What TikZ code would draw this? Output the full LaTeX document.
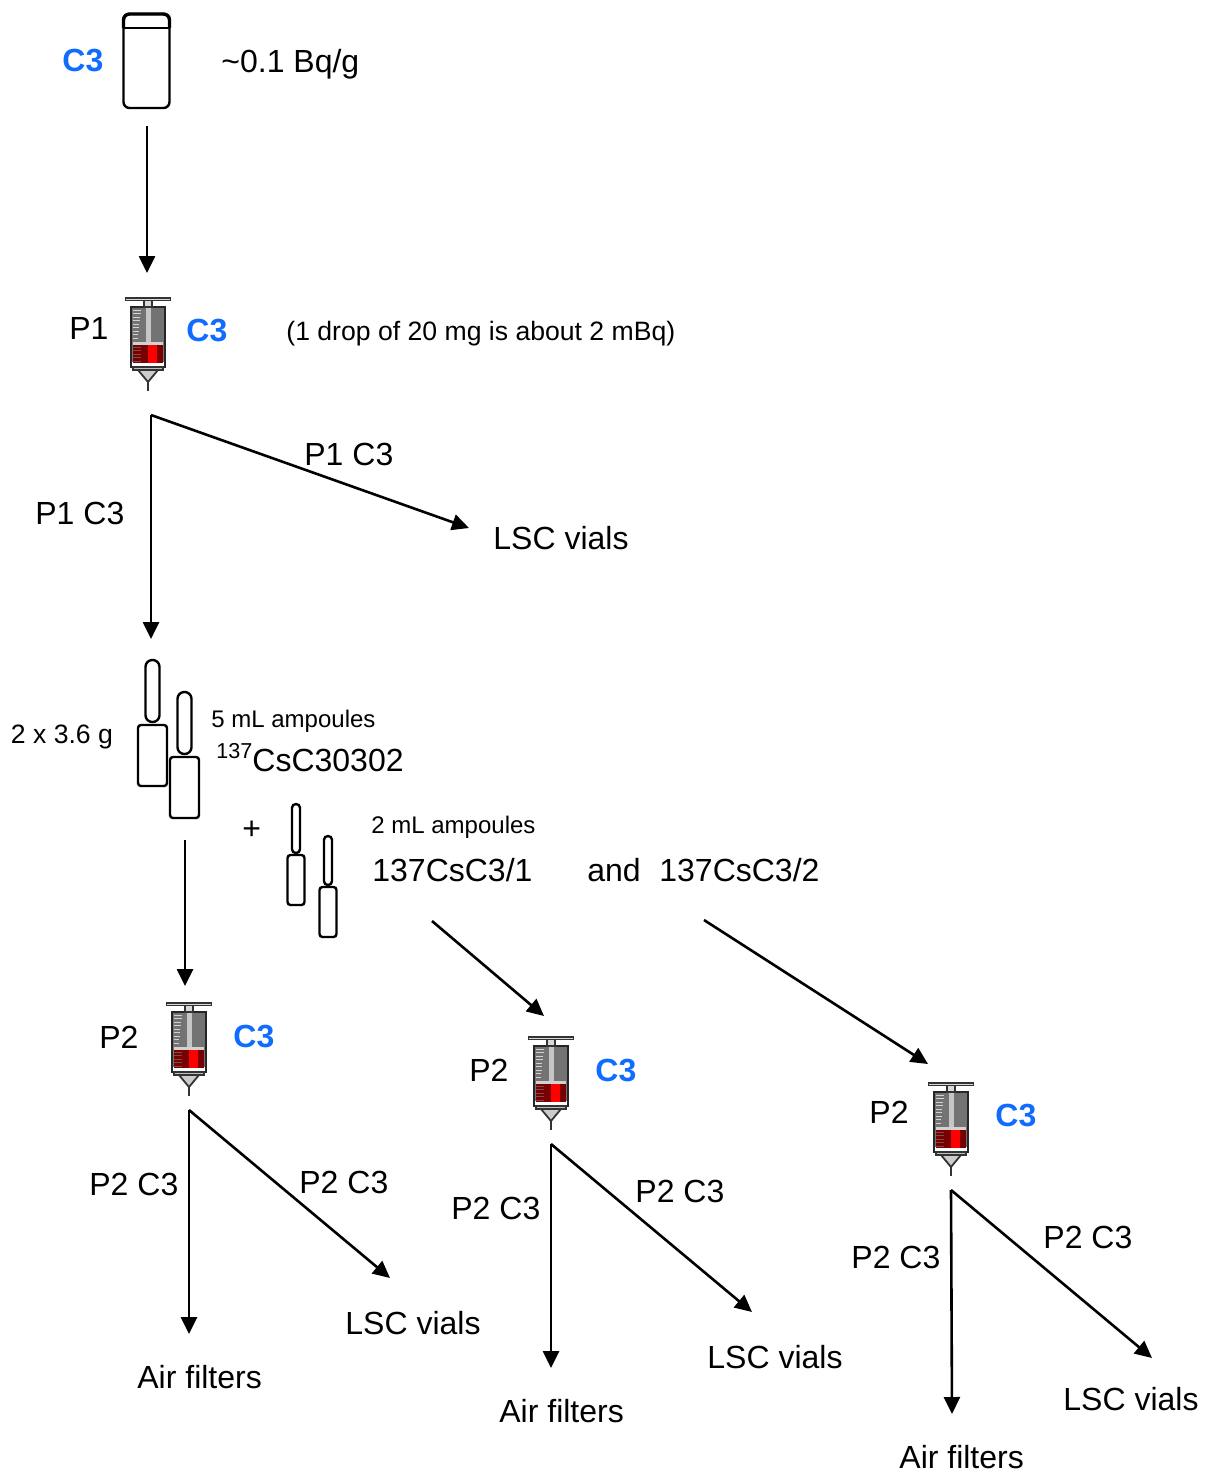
\documentclass[tikz,border=0pt]{standalone}
\usepackage{fontspec}
\setmainfont{Liberation Sans}
\usetikzlibrary{arrows.meta}
\definecolor{cblue}{HTML}{0F6CFF}
\definecolor{liquid}{HTML}{780000}
\tikzset{
	txt/.style={inner sep=0pt,anchor=base west,font=\fontsize{16}{18}\selectfont},
	small/.style={txt,font=\fontsize{12}{14}\selectfont},
	mid/.style={txt,font=\fontsize{13.3}{16}\selectfont},
	cthree/.style={txt,text=cblue,font=\fontsize{16}{18}\selectfont\bfseries},
	flow/.style={line width=1.3pt,-{Triangle[length=8.5pt,width=8pt]}},
	glass/.style={draw=black,line width=1.2pt,rounded corners=1.5pt,fill=white},
	syringe/.pic={
		\fill[gray!90!black] (-16,9) rectangle (16,64);
		\fill[liquid] (-15,45) rectangle (15,65);
		\fill[red] (0,45) rectangle (9,65);
		\fill[gray!45] (-2,9) rectangle (3,44);
		\fill[gray!35] (-15,44) rectangle (15,47);
		\foreach \i in {0,...,8}
			\draw[gray!35,line width=0.4pt] (-15,12+\i*3.5) -- (-7-\i*0.4,12+\i*3.5);
		\foreach \i in {0,...,4}
			\draw[gray!60!liquid,line width=0.4pt] (-15,49+\i*3.5) -- (-7,49+\i*3.5);
		\draw[black!85,line width=1.3pt] (-17,9) rectangle (17,69);
		\draw[black!80,line width=0.8pt,fill=gray!30] (-4,2) rectangle (4,9);
		\draw[black!80,line width=0.7pt,fill=gray!30] (-22.5,0) rectangle (22.5,2.5);
		\draw[black!80,line width=0.8pt,fill=gray!50] (-15,69) rectangle (15,72);
		\draw[black!80,line width=0.9pt,fill=gray!40] (-10,72) -- (10,72) -- (0,84) -- cycle;
		\draw[black!80,line width=0.9pt] (0,84) -- (0,93);
	},
	bigamp/.pic={
		\draw[glass] (-14.5,65) rectangle (14.5,126);
		\draw[glass,rounded corners=3.4pt] (-7,0) rectangle (7,62);
	},
	smallamp/.pic={
		\draw[glass] (-8.5,51) rectangle (8.5,101);
		\draw[glass,rounded corners=1.9pt] (-4,0) rectangle (4,49);
	}
}
\begin{document}
\begin{tikzpicture}[x=0.5pt,y=-0.5pt]
	\useasboundingbox (0,0) rectangle (1211,1473);

	% top row
	\node[cthree] (cA) at (62,71) {C3};
	\draw[line width=1.2pt,rounded corners=3pt] (123.5,14) rectangle (169.5,108);
	\draw[line width=1.7pt,rounded corners=3pt] (123.5,28) |- (169.5,14) -- (169.5,28);
	\draw[line width=1pt] (123.5,28) -- (169.5,28);
	\node[txt] (dose) at (221,72) {\textasciitilde 0.1 Bq/g};

	% P1
	\pic (syrA) at (148,298) {syringe};
	\node[txt] (pA) at (69,339) {P1};
	\node[cthree] (cB) at (186,341) {C3};
	\node[mid] (drop) at (286,340) {(1 drop of 20 mg is about 2 mBq)};

	\coordinate (a0) at (147,126);
	\coordinate (a1) at (147,273);
	\coordinate (b0) at (151,415);
	\coordinate (b1) at (151,639);
	\coordinate (b2) at (469,528);
	\draw[flow] (a0) -- (a1);
	\draw[flow] (b0) -- (b1);
	\draw[flow] (b0) -- (b2);
	\node[txt] (pcA) at (304,465) {P1 C3};
	\node[txt] (pcB) at (35,524) {P1 C3};
	\node[txt] (lscA) at (493,549) {LSC vials};

	% ampoules
	\pic (ampA) at (152.5,660) {bigamp};
	\pic (ampB) at (184.5,692) {bigamp};
	\pic (ampC) at (296,804) {smallamp};
	\pic (ampD) at (328,836) {smallamp};
	\node[mid] (mass) at (10.5,743) {2 x 3.6 g};
	\node[small] (fiveml) at (211,727) {5 mL ampoules};
	\node[txt] (csA) at (216,771) {\raisebox{6.4pt}{\fontsize{10.8}{12}\selectfont 137}CsC30302};
	\node[txt] (plus) at (242,839) {+};
	\node[small] (twoml) at (371,833) {2 mL ampoules};
	\node[txt] (csB) at (372,881) {137CsC3/1};
	\node[txt] (andw) at (587,881) {and};
	\node[txt] (csC) at (659,881) {137CsC3/2};

	\coordinate (c0) at (185,840);
	\coordinate (c1) at (185,986);
	\coordinate (d0) at (432,921);
	\coordinate (d1) at (544,1016);
	\coordinate (e0) at (704,920);
	\coordinate (e1) at (928,1064);
	\draw[flow] (c0) -- (c1);
	\draw[flow] (d0) -- (d1);
	\draw[flow] (e0) -- (e1);

	% left P2
	\pic (syrB) at (189,1003) {syringe};
	\node[txt] (pB) at (99,1048) {P2};
	\node[cthree] (cC) at (233,1047) {C3};
	\coordinate (f0) at (189,1110);
	\coordinate (f1) at (189,1334);
	\coordinate (f2) at (390,1278);
	\draw[flow] (f0) -- (f1);
	\draw[flow] (f0) -- (f2);
	\node[txt] (pcC) at (89,1195) {P2 C3};
	\node[txt] (pcD) at (299,1193) {P2 C3};
	\node[txt] (lscB) at (345,1334) {LSC vials};
	\node[txt] (airA) at (137,1388) {Air filters};

	% middle P2
	\pic (syrC) at (551,1037) {syringe};
	\node[txt] (pC) at (469,1081) {P2};
	\node[cthree] (cD) at (595,1081) {C3};
	\coordinate (g0) at (551,1144);
	\coordinate (g1) at (551,1368);
	\coordinate (g2) at (752,1312);
	\draw[flow] (g0) -- (g1);
	\draw[flow] (g0) -- (g2);
	\node[txt] (pcE) at (451,1219) {P2 C3};
	\node[txt] (pcF) at (635,1202) {P2 C3};
	\node[txt] (lscC) at (707,1368) {LSC vials};
	\node[txt] (airB) at (499,1422) {Air filters};

	% right P2
	\pic (syrD) at (951,1083) {syringe};
	\node[txt] (pD) at (869,1123) {P2};
	\node[cthree] (cE) at (995,1126) {C3};
	\coordinate (h0) at (951,1190);
	\coordinate (h1) at (952,1414);
	\coordinate (h2) at (1152,1358);
	\draw[flow] (h0) -- (h1);
	\draw[flow] (h0) -- (h2);
	\node[txt] (pcG) at (851,1268) {P2 C3};
	\node[txt] (pcH) at (1043,1248) {P2 C3};
	\node[txt] (lscD) at (1063,1410) {LSC vials};
	\node[txt] (airC) at (899,1468) {Air filters};
\end{tikzpicture}
\end{document}
